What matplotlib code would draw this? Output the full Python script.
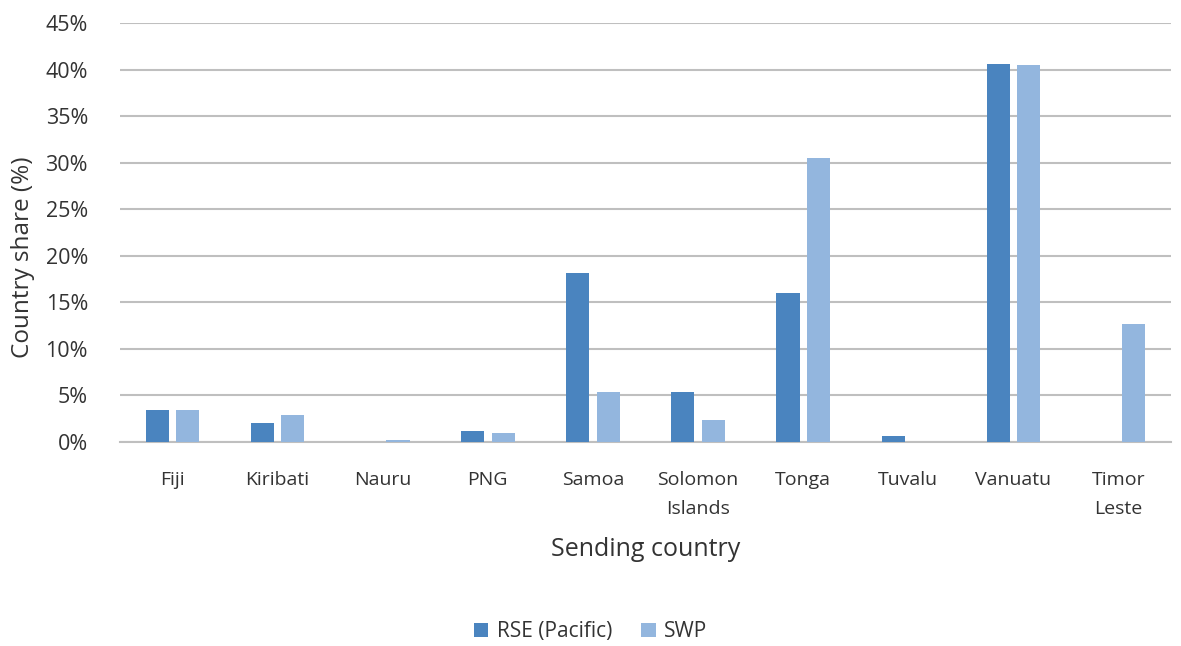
import numpy as np
import matplotlib
matplotlib.use("Agg")
import matplotlib.pyplot as plt
from matplotlib.ticker import PercentFormatter

plt.rcParams['font.family'] = ['Open Sans', 'DejaVu Sans']

# Cuota por país de origen (%)
paises = ['Fiji', 'Kiribati', 'Nauru', 'PNG', 'Samoa', 'Solomon\nIslands',
          'Tonga', 'Tuvalu', 'Vanuatu', 'Timor\nLeste']
rse_pacific = [3.4, 2.0, 0.0, 1.2, 18.2, 5.4, 16.0, 0.6, 40.6, 0.0]
swp = [3.4, 2.9, 0.2, 0.9, 5.4, 2.4, 30.5, 0.0, 40.5, 12.7]

color_rse = '#4a84bf'
color_swp = '#93b6de'
gris = '#bfbfbf'
texto = '#333333'

fig = plt.figure(figsize=(11.81, 6.46), dpi=100)
ax = fig.add_axes([0.1016, 0.316, 0.890, 0.648])

x = np.arange(len(paises))
ancho = 0.22
ax.bar(x - 0.145, rse_pacific, width=ancho, color=color_rse, label='RSE (Pacific)', zorder=3)
ax.bar(x + 0.145, swp, width=ancho, color=color_swp, label='SWP', zorder=3)

ax.set_xlim(-0.5, len(paises) - 0.5)
ax.set_ylim(0, 45)
ax.set_yticks(np.arange(0, 46, 5))
ax.yaxis.set_major_formatter(PercentFormatter(decimals=0))
ax.grid(axis='y', color=gris, linewidth=1.5, zorder=0)

for s in ['top', 'right', 'left']:
    ax.spines[s].set_visible(False)
ax.spines['bottom'].set_color(gris)
ax.spines['bottom'].set_linewidth(1.5)

ax.set_xticks(x)
ax.set_xticklabels(paises, fontsize=14, color=texto, linespacing=1.75)
ax.tick_params(axis='x', length=0, labelsize=14, labelcolor=texto, pad=21)
ax.tick_params(axis='y', length=0, labelsize=15.5, labelcolor=texto, pad=23)

ax.set_xlabel('Sending country', fontsize=18, color=texto, labelpad=14)
ax.set_ylabel('Country share (%)', fontsize=17.5, color=texto)
ax.yaxis.set_label_coords(-0.081, 0.44)

fig.legend(loc='center', bbox_to_anchor=(0.5, 0.022), ncol=2, frameon=False,
           fontsize=15, labelcolor=texto, handlelength=0.7, handleheight=0.7,
           handletextpad=0.4, columnspacing=1.4)

fig.savefig('out.png', dpi=100)
